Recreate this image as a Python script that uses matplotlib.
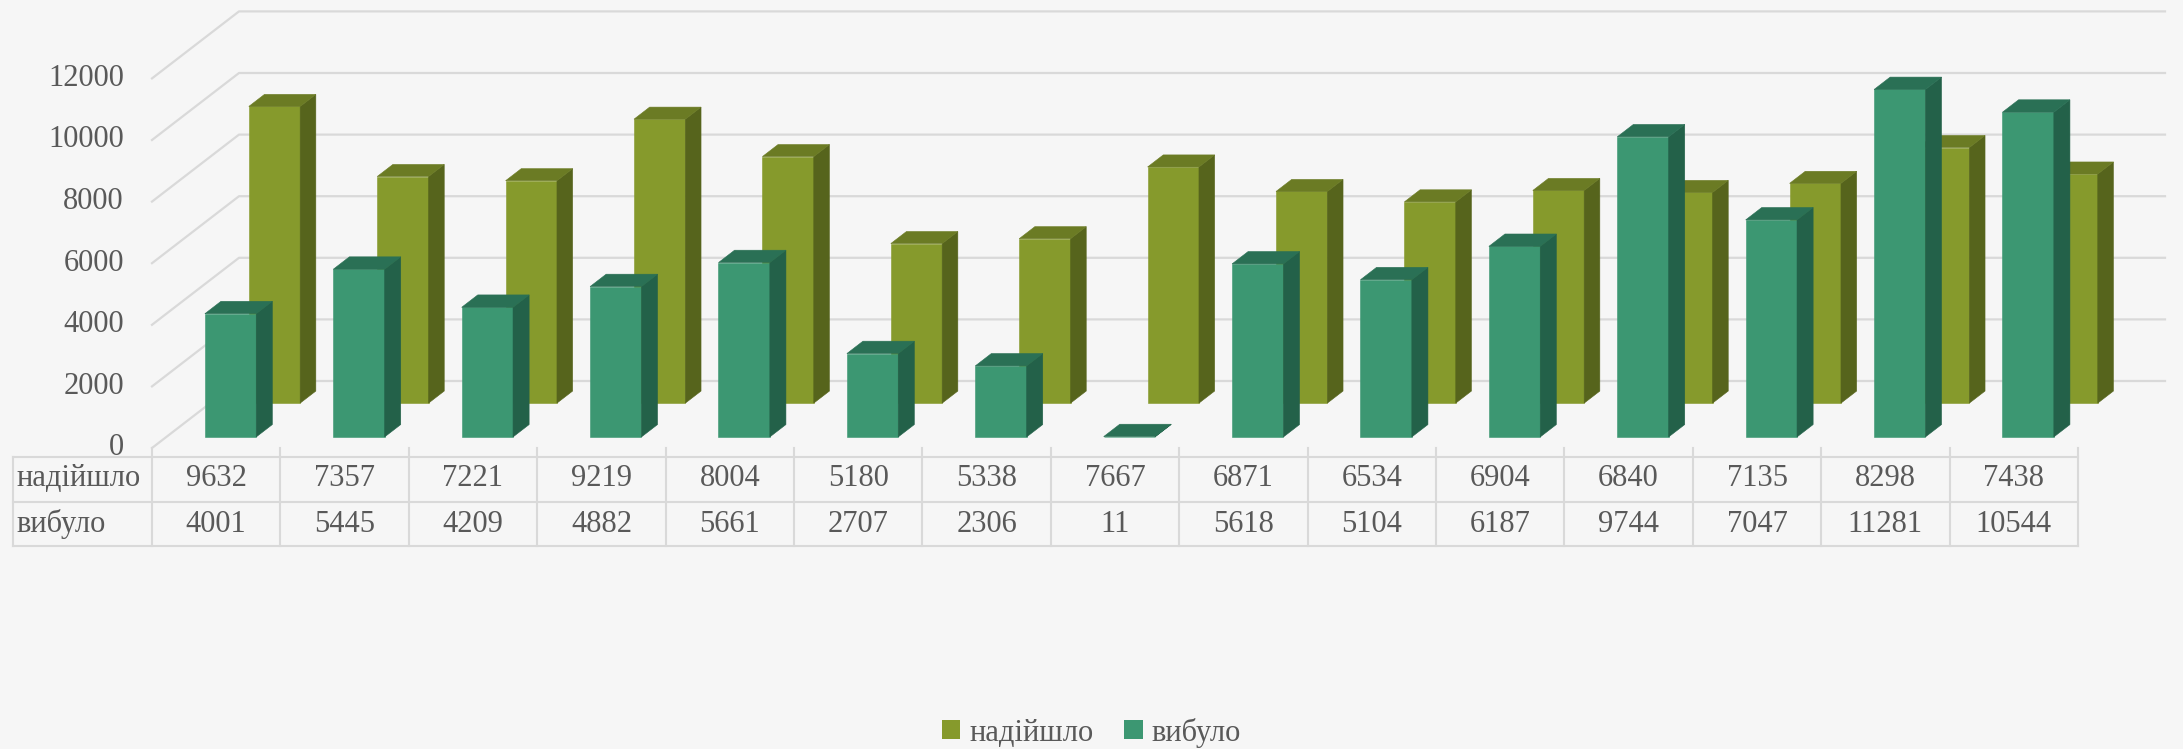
import matplotlib.pyplot as plt
from matplotlib.patches import Polygon, Patch
from matplotlib.transforms import blended_transform_factory

plt.rcParams["font.family"] = ["Liberation Serif", "DejaVu Serif"]

# data
series_names = ["надійшло", "вибуло"]
arrived = [9632, 7357, 7221, 9219, 8004, 5180, 5338, 7667, 6871, 6534, 6904, 6840, 7135, 8298, 7438]
removed = [4001, 5445, 4209, 4882, 5661, 2707, 2306, 11, 5618, 5104, 6187, 9744, 7047, 11281, 10544]
y_ticks = [0, 2000, 4000, 6000, 8000, 10000, 12000]

olive = ("#869a2c", "#56641c", "#6b7b24")   # front, side, top
teal = ("#3c9772", "#236149", "#2a7055")
text_col = "#595959"
grid_col = "#d9d9d9"
bg = "#f6f6f6"
fs = 22

W, H = 2183, 749
fig = plt.figure(figsize=(W / 100, H / 100), dpi=100, facecolor=bg)
ax = fig.add_axes([0, 0, 1, 1])
ax.set_facecolor(bg)
ax.axis("off")

# layout of the pseudo-3D box (pixels)
x0_px, col_px = 152, 128.4
base_px, unit_px = 448, 0.0308
n = len(arrived)
ax.set_xlim(-x0_px / col_px - 0.5, (W - x0_px) / col_px - 0.5)
ax.set_ylim((base_px - H) / unit_px, base_px / unit_px)
depth_dx = 87 / col_px
depth_dy = 67 / unit_px


def px_x(px):
    return (px - x0_px) / col_px - 0.5


def fy(px):
    return 1 - px / H


def bar3d(i, v, d0, d1, cols, w=0.4):
    front, side, top = cols
    xl = i - w / 2 + d0 * depth_dx
    xr = xl + w
    y0 = d0 * depth_dy
    ddx = (d1 - d0) * depth_dx
    ddy = (d1 - d0) * depth_dy
    faces = [
        ([(xl, y0), (xr, y0), (xr, y0 + v), (xl, y0 + v)], front),
        ([(xr, y0), (xr + ddx, y0 + ddy), (xr + ddx, y0 + ddy + v), (xr, y0 + v)], side),
        ([(xl, y0 + v), (xr, y0 + v), (xr + ddx, y0 + v + ddy), (xl + ddx, y0 + v + ddy)], top),
    ]
    for pts, c in faces:
        ax.add_patch(Polygon(pts, closed=True, facecolor=c, edgecolor=c, lw=0.4, zorder=2))


# walls: side wall diagonals and back wall gridlines
for t in y_ticks:
    ax.plot([-0.5, -0.5 + depth_dx, n - 0.5 + depth_dx], [t, t + depth_dy, t + depth_dy],
            color=grid_col, lw=1.6, zorder=1)
    ax.text(px_x(124), t, str(t), ha="right", va="center", fontsize=fs, color=text_col)

# back series first, then front series
for i, v in enumerate(arrived):
    bar3d(i, v, 0.67, 0.85, olive)
for i, v in enumerate(removed):
    bar3d(i, v, 0.165, 0.35, teal)

# data table
tr = blended_transform_factory(ax.transData, ax.transAxes)
x_left = px_x(13)
lw_t = 1.5
for ypx in (457, 502, 546):
    ax.plot([x_left, n - 0.5], [fy(ypx), fy(ypx)], color=grid_col, lw=lw_t, transform=tr)
ax.plot([x_left, x_left], [fy(457), fy(546)], color=grid_col, lw=lw_t, transform=tr)
for k in range(n + 1):
    ax.plot([k - 0.5, k - 0.5], [fy(448), fy(546)], color=grid_col, lw=lw_t, transform=tr)

rows = [(series_names[0], arrived, 479), (series_names[1], removed, 524)]
for name, vals, ypx in rows:
    ax.text(px_x(16), fy(ypx), name, ha="left", va="center", fontsize=fs,
            color=text_col, transform=tr)
    for i, v in enumerate(vals):
        ax.text(i, fy(ypx), str(v), ha="center", va="center", fontsize=fs,
                color=text_col, transform=tr)

handles = [Patch(facecolor=olive[0], label=series_names[0]),
           Patch(facecolor=teal[0], label=series_names[1])]
fig.legend(handles=handles, loc="center", bbox_to_anchor=(0.5, 0.022), ncol=2,
           frameon=False, fontsize=fs, handlelength=0.6, handleheight=0.6,
           handletextpad=0.3, columnspacing=1.0, labelcolor=text_col)

fig.savefig("out.png", dpi=100, facecolor=bg)
